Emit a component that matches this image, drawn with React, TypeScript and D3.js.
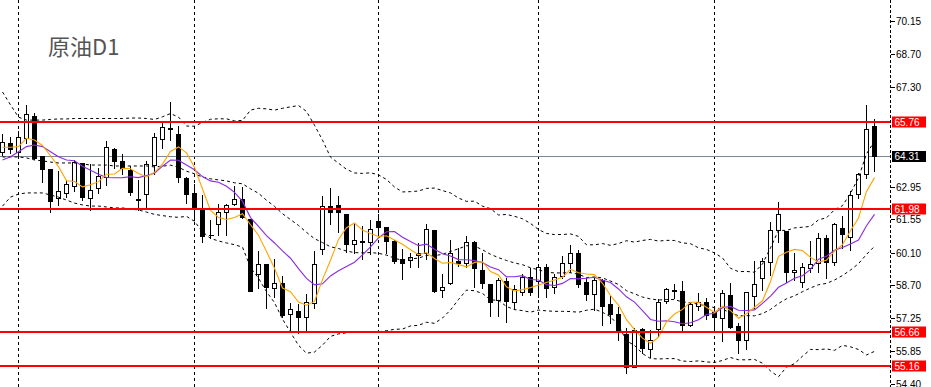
import React from 'react';
import * as d3 from 'd3';

const W = 931;
const H = 387;

const opens = [
  64.48, 64.84, 64.48, 65.09, 66.01, 64.29, 63.71, 62.46, 62.70, 63.00,
  63.97, 62.48, 62.92, 63.40, 64.58, 64.07, 63.68, 62.42, 62.63, 63.90,
  65.02, 65.51, 65.25, 63.35, 62.67, 61.95, 60.88, 61.33, 61.85, 62.21,
  62.41, 61.56, 59.16, 59.61, 58.58, 58.80, 57.44, 57.57, 57.32, 57.90,
  60.24, 62.12, 62.17, 61.79, 60.47, 60.62, 60.55, 61.46, 61.20, 60.61,
  59.81, 59.78, 59.99, 60.10, 61.08, 58.48, 58.77, 59.72, 59.64, 60.55,
  59.35, 58.73, 58.05, 58.88, 57.97, 58.41, 59.03, 58.88, 59.46, 58.63,
  59.09, 59.64, 60.10, 58.81, 58.31, 58.91, 57.87, 57.44, 56.57, 55.15,
  56.77, 55.91, 56.77, 58.00, 58.47, 58.44, 56.96, 57.78, 57.97, 57.51,
  57.25, 58.26, 56.93, 56.31, 58.23, 58.99, 59.71, 61.07, 61.04, 59.25,
  58.81, 59.45, 59.64, 60.72, 59.71, 61.15, 60.79, 62.63, 63.50, 65.61,
];
const highs = [
  65.30, 65.16, 65.42, 66.53, 66.22, 64.32, 63.76, 63.68, 63.29, 64.16,
  64.02, 64.00, 63.83, 64.99, 64.68, 64.41, 63.90, 63.28, 64.12, 65.35,
  65.75, 66.68, 65.64, 63.44, 63.11, 62.64, 61.56, 62.24, 62.24, 63.03,
  63.01, 61.62, 60.21, 59.64, 59.85, 59.13, 57.97, 57.90, 58.33, 60.21,
  62.60, 62.96, 62.60, 61.83, 61.37, 61.30, 61.55, 61.81, 61.23, 60.68,
  60.29, 60.14, 60.58, 61.40, 61.14, 59.23, 60.68, 60.36, 60.87, 60.65,
  60.14, 58.77, 59.06, 59.06, 58.74, 59.20, 59.49, 59.64, 59.64, 59.20,
  60.00, 60.48, 60.24, 59.06, 59.06, 58.99, 58.26, 57.79, 56.89, 56.89,
  56.89, 56.77, 58.12, 58.62, 58.80, 58.91, 58.02, 58.40, 58.19, 57.68,
  58.52, 58.84, 57.11, 58.44, 59.78, 59.93, 61.47, 62.34, 61.08, 60.14,
  59.71, 60.65, 61.01, 60.90, 61.44, 61.73, 62.82, 63.61, 66.53, 65.96,
];
const lows = [
  64.34, 64.41, 64.26, 64.84, 64.16, 63.18, 61.85, 62.17, 62.53, 62.77,
  62.38, 61.95, 62.67, 63.03, 63.76, 63.50, 62.60, 61.95, 62.09, 63.50,
  64.62, 64.99, 63.18, 62.24, 61.52, 60.55, 60.72, 60.87, 60.87, 62.17,
  61.59, 58.45, 58.55, 57.69, 58.19, 57.32, 56.67, 56.60, 56.74, 57.68,
  60.03, 61.33, 60.98, 60.11, 60.07, 59.81, 60.04, 60.94, 60.10, 59.66,
  58.96, 59.46, 59.49, 59.81, 58.39, 58.16, 58.74, 59.52, 59.49, 58.62,
  58.55, 57.37, 57.37, 57.11, 57.64, 58.26, 58.26, 58.19, 58.19, 58.34,
  58.99, 59.28, 58.62, 58.05, 57.61, 56.96, 57.03, 56.31, 54.89, 55.13,
  55.73, 55.59, 56.48, 57.93, 58.12, 56.67, 56.92, 57.62, 57.22, 56.79,
  56.27, 56.82, 55.73, 55.92, 57.68, 58.48, 59.13, 60.58, 58.84, 58.91,
  58.62, 59.25, 59.27, 58.99, 59.56, 60.29, 60.22, 62.46, 63.32, 63.64,
];
const closes = [
  64.91, 64.58, 65.13, 66.10, 64.22, 63.71, 62.35, 62.77, 63.06, 64.05,
  62.53, 62.82, 63.44, 64.67, 64.09, 63.76, 62.74, 62.40, 63.93, 65.10,
  65.55, 65.48, 63.37, 62.63, 61.99, 60.82, 60.85, 61.85, 62.17, 62.41,
  61.66, 58.45, 59.59, 58.62, 58.77, 57.40, 57.65, 57.32, 57.94, 59.61,
  62.12, 61.85, 61.85, 60.46, 60.65, 60.58, 61.11, 61.20, 60.62, 59.75,
  59.64, 59.93, 60.10, 61.11, 58.45, 58.62, 60.10, 59.66, 60.58, 59.42,
  58.77, 57.97, 58.91, 58.02, 58.51, 59.06, 58.41, 59.49, 58.55, 59.06,
  59.67, 60.10, 58.74, 58.31, 58.91, 57.79, 57.44, 56.67, 55.15, 56.75,
  55.95, 56.31, 57.97, 58.51, 58.44, 56.96, 57.87, 57.97, 57.40, 57.32,
  58.34, 56.89, 56.31, 58.38, 58.73, 59.74, 61.08, 61.76, 59.27, 59.35,
  59.49, 59.59, 60.75, 59.68, 61.33, 60.90, 62.60, 63.50, 65.46, 64.31,
];

// indicator values for the first bars (before a full window exists)
const fastLead = [64.67, 64.67, 64.70, 65.06];
const slowLead = [64.12, 64.26, 64.48, 64.70, 64.77, 64.70, 64.48, 64.26, 64.12];
const bbUpperLead = [
  67.07, 66.51, 65.98, 65.85, 65.85, 65.85, 65.88, 65.90, 65.90, 65.92,
  65.92, 65.92, 65.92, 65.92, 65.92, 65.92, 65.94, 65.94, 65.92,
];
const bbMidLead = [
  64.25, 64.25, 64.25, 64.21, 64.12, 64.08, 64.03, 63.99, 63.99, 63.99,
  63.95, 63.90, 63.90, 63.90, 63.86, 63.86, 63.86, 63.86, 63.86,
];
const bbLowerLead = [
  62.12, 62.51, 62.64, 62.69, 62.69, 62.69, 62.60, 62.51, 62.38, 62.25,
  62.17, 62.12, 62.12, 62.08, 62.04, 62.04, 61.99, 61.95, 61.86,
];

const tickLabels = ['70.15', '68.70', '67.30', '62.95', '61.55', '60.10', '58.70', '57.25', '55.85', '54.40'];
const levelLines = [65.76, 61.98, 56.66, 55.16];
const lastPrice = 64.31;
const gridIdx = [2, 24, 47, 67, 89];
const title = '原油D1';

function sma(period: number, i: number): number {
  return d3.mean(closes.slice(i - period + 1, i + 1)) as number;
}

export default function App() {
  const n = closes.length;
  const x = d3.scaleLinear().domain([0, n - 1]).range([2.5, 874.5]);
  const y = d3.scaleLinear().domain([54.4, 70.15]).range([384, 21]);
  const axisX = 890.5;

  const fast = closes.map((_, i) => (i < 4 ? fastLead[i] : sma(5, i)));
  const slow = closes.map((_, i) => (i < 9 ? slowLead[i] : sma(10, i)));
  const bb = closes.map((_, i) => {
    if (i < 19) return { u: bbUpperLead[i], m: bbMidLead[i], l: bbLowerLead[i] };
    const w = closes.slice(i - 19, i + 1);
    const m = d3.mean(w) as number;
    const sd = Math.sqrt(d3.mean(w.map((v) => (v - m) * (v - m))) as number);
    return { u: m + 2 * sd, m, l: m - 2 * sd };
  });

  const line = (vals: number[]) =>
    d3.line<number>().x((_, i) => x(i)).y((v) => y(v))(vals) || '';

  const snap = (v: number) => Math.round(v) + 0.5;
  const font = "'Liberation Sans', Arial, sans-serif";

  return (
    <div style={{ position: 'fixed', left: 0, top: 0, width: W, height: H, background: '#fff' }}>
      <svg width={W} height={H} style={{ display: 'block' }}>
        <rect x={0} y={0} width={W} height={H} fill="#fff" />
        {/* vertical grid */}
        {gridIdx.map((gi) => (
          <line key={'g' + gi} x1={x(gi)} x2={x(gi)} y1={0} y2={H} stroke="#000" strokeWidth={1} strokeDasharray="3,3" shapeRendering="crispEdges" />
        ))}
        {/* current price line */}
        <line x1={0} x2={axisX} y1={snap(y(lastPrice))} y2={snap(y(lastPrice))} stroke="#778899" strokeWidth={1} shapeRendering="crispEdges" />
        {/* candles */}
        {closes.map((c, i) => {
          const o = opens[i];
          const cx = x(i);
          const bull = c >= o;
          const top = snap(y(Math.max(o, c)));
          const bot = snap(y(Math.min(o, c)));
          return (
            <g key={'c' + i} shapeRendering="crispEdges">
              <line x1={cx} x2={cx} y1={snap(y(highs[i]))} y2={snap(y(lows[i]))} stroke="#000" strokeWidth={1} />
              {bot - top < 1 ? (
                <line x1={cx - 2} x2={cx + 3} y1={top} y2={top} stroke="#000" strokeWidth={1} />
              ) : (
                <rect x={cx - 2} y={top} width={4} height={bot - top} fill={bull ? '#fff' : '#000'} stroke="#000" strokeWidth={1} />
              )}
            </g>
          );
        })}
        {/* bollinger bands */}
        {(['u', 'm', 'l'] as const).map((k) => (
          <path key={'bb' + k} d={line(bb.map((b) => b[k]))} fill="none" stroke="#000" strokeWidth={1} strokeDasharray="3,3" />
        ))}
        {/* moving averages */}
        <path d={line(slow)} fill="none" stroke="#8A2BE2" strokeWidth={1.1} />
        <path d={line(fast)} fill="none" stroke="#FFA500" strokeWidth={1.1} />
        {/* horizontal level lines */}
        {levelLines.map((v) => (
          <line key={'lv' + v} x1={0} x2={892} y1={Math.round(y(v))} y2={Math.round(y(v))} stroke="#FF0000" strokeWidth={2} shapeRendering="crispEdges" />
        ))}
        {/* right axis */}
        <rect x={axisX + 0.5} y={0} width={W - axisX} height={H} fill="#fff" />
        <line x1={axisX} x2={axisX} y1={0} y2={H} stroke="#000" strokeWidth={1} strokeDasharray="3,2" shapeRendering="crispEdges" />
        {tickLabels.map((t) => {
          const ty = snap(y(+t));
          return (
            <g key={'t' + t}>
              <line x1={axisX} x2={axisX + 4} y1={ty} y2={ty} stroke="#000" strokeWidth={1} shapeRendering="crispEdges" />
              <text x={896} y={ty} dy="0.35em" fontSize={10} fontFamily={font} fill="#000">{t}</text>
            </g>
          );
        })}
        {levelLines.map((v) => {
          const ly = Math.round(y(v));
          return (
            <g key={'lb' + v}>
              <rect x={892} y={ly - 5.5} width={34} height={11} fill="#FF0000" />
              <text x={894.5} y={ly} dy="0.35em" fontSize={10} fontFamily={font} fill="#fff">{v.toFixed(2)}</text>
            </g>
          );
        })}
        <g>
          <rect x={892} y={Math.round(y(lastPrice)) - 5} width={34} height={11} fill="#000" />
          <text x={894.5} y={Math.round(y(lastPrice)) + 0.5} dy="0.35em" fontSize={10} fontFamily={font} fill="#fff">{lastPrice.toFixed(2)}</text>
        </g>
        {/* title */}
        <text x={48} y={55} fontSize={22} fontFamily="'Noto Sans CJK SC', sans-serif" fill="#555">{title}</text>
      </svg>
    </div>
  );
}
